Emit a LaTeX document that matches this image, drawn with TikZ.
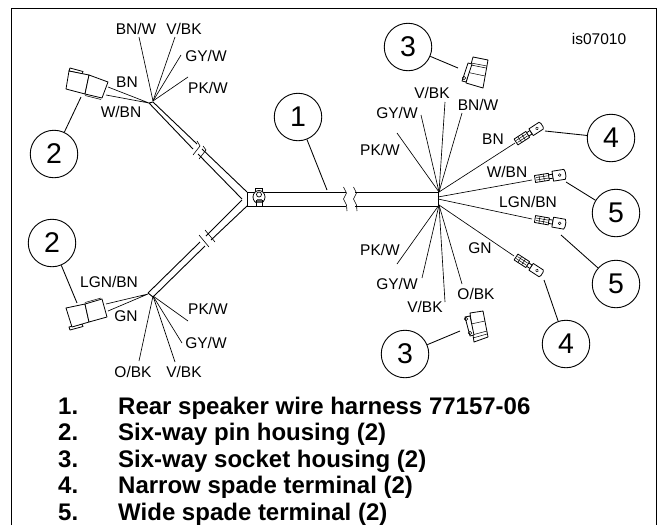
\documentclass[tikz,border=0pt]{standalone}
\usepackage{fontspec}
\setmainfont{Liberation Sans}
\tikzset{
 lab/.style={inner sep=0pt,font=\fontsize{15.5}{18}\selectfont},
 num/.style={circle,draw,line width=0.9pt,minimum size=47.5pt,inner sep=0pt,font=\fontsize{28.5}{32}\selectfont},
 item/.style={anchor=base west,inner sep=0pt,font=\bfseries\fontsize{24}{28}\selectfont},
 wire/.style={line width=0.65pt},
 leader/.style={line width=0.85pt},
 harn/.style={line width=0.9pt},
 part/.style={line width=0.8pt,fill=white,line join=round},
 thin part/.style={line width=0.5pt},
 terminal/.pic={
   \draw[part] (0,-3.5)--(14,-3.5)--(14,3.5)--(0,3.5)--cycle;
   \draw[thin part] (1,-1.2)--(13,-1.2) (1,1.2)--(13,1.2) (4.5,-3.5)--(4.5,3.5) (9,-3.5)--(9,3.5);
   \draw[part] (14,-2)--(18,-2)--(18,2)--(14,2)--cycle;
   \draw[part] (18,-\pgfkeysvalueof{/tikz/spade})--(30,-\pgfkeysvalueof{/tikz/spade})--(31,-2)--(31,2)--(30,\pgfkeysvalueof{/tikz/spade})--(18,\pgfkeysvalueof{/tikz/spade})--cycle;
   \draw[thin part] (25,0) circle (1.4);
 },
 spade/.initial=4
}
\begin{document}
\begin{tikzpicture}[x=1pt,y=-1pt]
\useasboundingbox (0,0) rectangle (666,525);
\fill[white] (0,0) rectangle (666,525);
\draw[line width=1.1pt] (11.5,525)--(11.5,8.7)--(656.5,8.7)--(656.5,525);

% harness
\draw[harn] (247,192)--(346,192) (247,206)--(346,206) (247,192)--(247,206);
\draw[harn] (355,192)--(438,192) (355,206)--(438,206);
\draw[line width=0.6pt] (343.5,187)--(346.5,193)--(343.5,199)--(346.5,205)--(347,211)
 (353.5,187)--(356.5,193)--(353.5,199)--(356.5,205)--(357,211);
\draw[harn] (438,192)--(438,206);

% upper branch
\draw[harn] (247,192)--(202,149) (197,144)--(153,102)
 (242,199)--(198,154) (193,149)--(149,103) (149,103)--(153,102);
\draw[line width=0.6pt] (197,141)--(200,146)--(193,155) (203,146)--(206,150)--(199,159);
% lower branch
\draw[harn] (247,206)--(211,240) (205,246)--(153,297)
 (242,200)--(206,236) (200,242)--(148,293) (148,293)--(153,297);
\draw[line width=0.6pt] (199,235)--(204,241)--(209,247) (205,230)--(210,236)--(215,242);

% clamp
\draw[line width=0.8pt,fill=white] (255.5,188.5) rectangle (262.5,194);
\draw[line width=0.8pt,fill=white] (259,197) ellipse (6 and 6.5);
\draw[line width=0.7pt] (259,194.5) circle (2.5);
\draw[line width=0.7pt,fill=white] (256,200) rectangle (262,206.5);
\fill[black!65] (256.5,199) rectangle (261.5,203);

% fan coordinates
\coordinate (ua) at (153,101);
\coordinate (ub) at (149,103);
\coordinate (la) at (153,296);
\coordinate (lb) at (148,294);
\coordinate (ra) at (439,192);
\coordinate (rb) at (438,197);
\coordinate (rc) at (438,199);
\coordinate (rd) at (439,205);
\foreach \e in {(139,37),(175,37),(181,55),(188,77)} \draw[wire] (ua)--\e;
\foreach \e in {(188,321),(182,343),(175,362),(139,361)} \draw[wire] (la)--\e;
\foreach \e in {(397,133),(421,115),(445,102),(462,113)} \draw[wire] (ra)--\e;
\foreach \e in {(397,264),(422,278),(445,302),(462,284)} \draw[wire] (rd)--\e;
\draw[wire] (ra)--(515,143) (rb)--(532,180) (rc)--(532,219) (rd)--(514,256);
\draw[wire] (ub)--(108,87) (ub)--(106,95);
\draw[wire] (lb)--(106,304) (lb)--(108,311);

% pin housing upper
\draw[part] (70,68)--(83,71.5)--(82,74)--(69,71)--cycle;
\draw[part] (69,71)--(66,89)--(85,94)--(89,75)--cycle;
\draw[part] (89,75)--(108,82)--(102,98)--(85,94)--cycle;
\draw[thin part] (85,95.5)--(101,99.5);
% pin housing lower
\draw[part] (69,327)--(70,330)--(83,326.5)--(82,324)--cycle;
\draw[part] (66,308)--(72,327)--(89,322)--(85,304)--cycle;
\draw[part] (85,304)--(102,299)--(107,317)--(89,322)--cycle;
\draw[thin part] (85,302.5)--(101,298);

% socket upper
\draw[part] (473,57)--(488,60)--(483,88)--(466,83)--cycle;
\draw[thin part] (471,63)--(487,66) (471,65)--(486,68) (466,72)--(485,76);
\draw[part] (468,63)--(472,64)--(466,82)--(462,81)--cycle;
\draw[thin part] (464,78) circle (1.8);
% socket lower
\draw[part] (470,313)--(483,311)--(488,337)--(474,342)--cycle;
\draw[thin part] (471,324)--(485,321) (472,335)--(487,331) (473,338)--(487,334);
\draw[part] (465,317)--(470,316)--(474,335)--(470,336)--cycle;
\draw[thin part] (466,319) circle (1.8) (470,333) circle (1.8);

% terminals
\path pic[rotate=33] at (516,142) {terminal};
\begin{scope}[spade=5]
\path pic[rotate=9] at (535,179) {terminal};
\path pic[rotate=-10] at (535,219) {terminal};
\end{scope}
\path pic[rotate=-33] at (516,257) {terminal};

% callouts
\node[num] (c1) at (298,117) {1};
\node[num] (c2a) at (54,154) {2};
\node[num] (c2b) at (52,243) {2};
\node[num] (c3a) at (408,47) {3};
\node[num] (c3b) at (405,354) {3};
\node[num] (c4a) at (611,138) {4};
\node[num] (c5a) at (616,213) {5};
\node[num] (c5b) at (616,284) {5};
\node[num] (c4b) at (566,344) {4};
\coordinate (t1) at (327,190);
\coordinate (t2a) at (81,97);
\coordinate (t2b) at (77,303);
\coordinate (t3a) at (458,68);
\coordinate (t3b) at (460,331);
\coordinate (t4a) at (545,131);
\coordinate (t5a) at (566,182);
\coordinate (t5b) at (561,235);
\coordinate (t4b) at (544,280);
\draw[leader] (c1)--(t1);
\draw[leader] (c2a)--(t2a);
\draw[leader] (c2b)--(t2b);
\draw[leader] (c3a)--(t3a);
\draw[leader] (c3b)--(t3b);
\draw[leader] (c4a)--(t4a);
\draw[leader] (c5a)--(t5a);
\draw[leader] (c5b)--(t5b);
\draw[leader] (c4b)--(t4b);

% labels
\node[lab] (a1) at (136,29) {BN/W};
\node[lab] (a2) at (184,29) {V/BK};
\node[lab] (a3) at (206,56) {GY/W};
\node[lab] (a4) at (127,82) {BN};
\node[lab] (a5) at (208,88) {PK/W};
\node[lab] (a6) at (121,112) {W/BN};
\node[lab] (b1) at (109,282) {LGN/BN};
\node[lab] (b2) at (126,316) {GN};
\node[lab] (b3) at (208,309) {PK/W};
\node[lab] (b4) at (206,343) {GY/W};
\node[lab] (b5) at (133,372) {O/BK};
\node[lab] (b6) at (184,372) {V/BK};
\node[lab] (d0) at (599,39) {is07010};
\node[lab] (d1) at (432,93) {V/BK};
\node[lab] (d2) at (397,113) {GY/W};
\node[lab] (d3) at (478,105) {BN/W};
\node[lab] (d4) at (380,150) {PK/W};
\node[lab] (d5) at (493,139) {BN};
\node[lab] (d6) at (507,172) {W/BN};
\node[lab] (d7) at (528,202) {LGN/BN};
\node[lab] (d8) at (480,248) {GN};
\node[lab] (d9) at (380,250) {PK/W};
\node[lab] (d10) at (397,284) {GY/W};
\node[lab] (d11) at (425,307) {V/BK};
\node[lab] (d12) at (476,294) {O/BK};

% list
\node[item] (n1) at (58,414) {1.};
\node[item] (n2) at (58,440.5) {2.};
\node[item] (n3) at (58,467) {3.};
\node[item] (n4) at (58,493.5) {4.};
\node[item] (n5) at (58,520) {5.};
\node[item] (i1) at (118,414) {Rear speaker wire harness 77157-06};
\node[item] (i2) at (118,440.5) {Six-way pin housing (2)};
\node[item] (i3) at (118,467) {Six-way socket housing (2)};
\node[item] (i4) at (118,493.5) {Narrow spade terminal (2)};
\node[item] (i5) at (118,520) {Wide spade terminal (2)};
\end{tikzpicture}
\end{document}
